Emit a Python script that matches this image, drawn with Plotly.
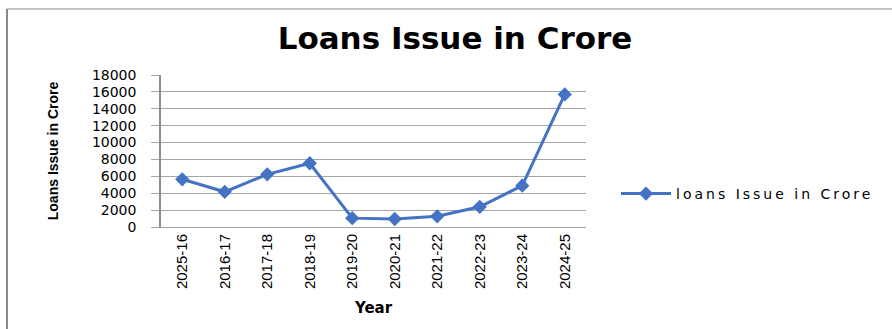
import plotly.graph_objects as go

# Loans issued per financial year (in crore)
years = ["2025-16", "2016-17", "2017-18", "2018-19", "2019-20",
         "2020-21", "2021-22", "2022-23", "2023-24", "2024-25"]
loans = [5650, 4170, 6240, 7550, 1050, 950, 1270, 2390, 4890, 15700]
y_ticks = [0, 2000, 4000, 6000, 8000, 10000, 12000, 14000, 16000, 18000]

W, H = 892, 329
L, R, T, B = 161, 306, 75, 102
plot_w = W - L - R
plot_h = H - T - B

blue = "#4472C4"
grid = "#a6a6a6"

fig = go.Figure()
fig.add_trace(go.Scatter(
    x=years, y=loans, mode="lines+markers", name="loans Issue in Crore",
    line=dict(color=blue, width=3),
    marker=dict(symbol="diamond", size=11, color=blue),
))


def px_x(p):
    return (p - L) / plot_w


def px_y(p):
    return (H - B - p) / plot_h


# outer chart frame (top and left edges)
fig.add_shape(type="line", xref="paper", yref="paper",
              x0=px_x(7), x1=px_x(W + 5), y0=px_y(9), y1=px_y(9),
              line=dict(color="#c4c4c4", width=2), layer="below")
fig.add_shape(type="line", xref="paper", yref="paper",
              x0=px_x(7), x1=px_x(7), y0=px_y(9), y1=px_y(H + 5),
              line=dict(color="#8a8a8a", width=2), layer="below")

fig.update_layout(
    width=W, height=H, autosize=False,
    margin=dict(l=L, r=R, t=T, b=B),
    paper_bgcolor="white", plot_bgcolor="white",
    title=dict(text="<b>Loans Issue in Crore</b>",
               font=dict(family="DejaVu Sans", size=31, color="black"),
               x=455 / W, xanchor="center", xref="container",
               y=1 - 38 / H, yanchor="middle", yref="container"),
    showlegend=True,
    legend=dict(x=616 / W, xanchor="left", xref="container",
                y=1 - 194 / H, yanchor="middle", yref="container",
                itemwidth=50,
                font=dict(family="DejaVu Sans", size=14, color="black"),
                bgcolor="rgba(0,0,0,0)", borderwidth=0),
    font=dict(family="DejaVu Sans", color="black"),
)

fig.update_xaxes(
    type="category", range=[-0.5, len(years) - 0.5],
    tickangle=-90, ticks="",
    tickfont=dict(family="Liberation Sans", size=15, color="black"),
    showgrid=False, showline=True, linecolor=grid, linewidth=1,
    title=dict(text="<b>Year</b>", standoff=14,
               font=dict(family="DejaVu Sans", size=15, color="black")),
    zeroline=False,
)
fig.update_yaxes(
    range=[0, 18000], tickvals=y_ticks, ticktext=[str(v) for v in y_ticks],
    ticks="outside", ticklen=8, tickcolor=grid, ticklabelstandoff=12,
    tickfont=dict(family="DejaVu Sans", size=14, color="black"),
    showgrid=True, gridcolor=grid, gridwidth=1,
    showline=True, linecolor="#8c8c8c", linewidth=1.5,
    zeroline=False,
    title=dict(text="<b>Loans Issue in Crore</b>", standoff=30,
               font=dict(family="Liberation Sans", size=14, color="black")),
)

# widen the legend lettering and let it run past the measured legend box
spacing_js = (
    "document.querySelectorAll('.legendtext').forEach(function(t){"
    "t.style.letterSpacing='3px';});"
    "document.querySelectorAll('.legend, .legend [clip-path]').forEach(function(e){"
    "e.removeAttribute('clip-path');});"
)
fig.write_html("out.html", post_script=spacing_js)
